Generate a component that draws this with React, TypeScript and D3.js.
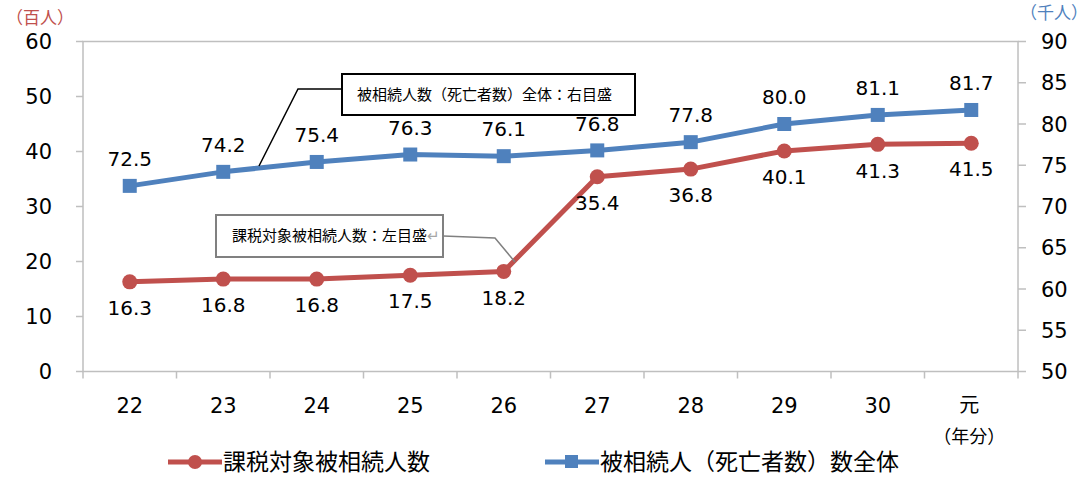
import React from "react";
import * as d3 from "d3";

const categories = ["22", "23", "24", "25", "26", "27", "28", "29", "30", "元"];
const taxableHeirs = [16.3, 16.8, 16.8, 17.5, 18.2, 35.4, 36.8, 40.1, 41.3, 41.5];
const allDeceased = [72.5, 74.2, 75.4, 76.3, 76.1, 76.8, 77.8, 80.0, 81.1, 81.7];
const leftTicks = [0, 10, 20, 30, 40, 50, 60];
const rightTicks = [50, 55, 60, 65, 70, 75, 80, 85, 90];

const RED = "#c0504d";
const BLUE = "#4f81bd";
const AXIS = "#bfbfbf";
const NUM_FONT = "'DejaVu Sans', Verdana, sans-serif";
const JP_FONT = "'Noto Sans CJK JP', 'Noto Sans', sans-serif";

export default function App() {
  const left = 83, right = 1018, top = 41.5, bottom = 371.5;
  const x = d3.scaleBand<string>().domain(categories).range([left, right]);
  const cx = (c: string) => (x(c) as number) + x.bandwidth() / 2;
  const yL = d3.scaleLinear().domain([0, 60]).range([bottom, top]);
  const yR = d3.scaleLinear().domain([50, 90]).range([bottom, top]);

  const redLine = d3.line<number>().x((_, i) => cx(categories[i])).y((d) => yL(d))(taxableHeirs) || "";
  const blueLine = d3.line<number>().x((_, i) => cx(categories[i])).y((d) => yR(d))(allDeceased) || "";

  const boundaries = d3.range(categories.length + 1).map((i) => left + i * x.bandwidth());

  return (
    <svg width={1089} height={483} style={{ position: "absolute", left: 0, top: 0, background: "#fff" }}>
      {/* plot frame */}
      <rect x={left} y={top} width={right - left} height={bottom - top} fill="none" stroke={AXIS} strokeWidth={1.5} />
      {/* left ticks */}
      {leftTicks.map((t) => (
        <g key={"l" + t}>
          <line x1={left - 7} x2={left} y1={yL(t)} y2={yL(t)} stroke={AXIS} strokeWidth={1.5} />
          <text x={52} y={yL(t)} dy="0.36em" textAnchor="end" fontFamily={NUM_FONT} fontSize={21} fill="#000">{t}</text>
        </g>
      ))}
      {/* right ticks */}
      {rightTicks.map((t) => (
        <g key={"r" + t}>
          <line x1={right} x2={right + 8} y1={yR(t)} y2={yR(t)} stroke={AXIS} strokeWidth={1.5} />
          <text x={1041} y={yR(t)} dy="0.36em" textAnchor="start" fontFamily={NUM_FONT} fontSize={21} fill="#000">{t}</text>
        </g>
      ))}
      {/* category ticks */}
      {boundaries.map((b, i) => (
        <line key={"c" + i} x1={b} x2={b} y1={bottom} y2={bottom + 7} stroke={AXIS} strokeWidth={1.5} />
      ))}
      {categories.map((c, i) =>
        i < categories.length - 1 ? (
          <text key={"x" + c} x={cx(c)} y={405} dy="0.36em" textAnchor="middle" fontFamily={NUM_FONT} fontSize={21} fill="#000">{c}</text>
        ) : (
          <g key={"x" + c}>
            <text x={cx(c) - 2} y={405} dy="0.36em" textAnchor="middle" fontFamily={JP_FONT} fontSize={20} fill="#000">{c}</text>
            <text x={cx(c) - 2} y={437} dy="0.36em" textAnchor="middle" fontFamily={JP_FONT} fontSize={18} fill="#000">（年分）</text>
          </g>
        )
      )}
      {/* unit labels */}
      <text x={6} y={18} dy="0.36em" fontFamily={JP_FONT} fontSize={17} fill={RED}>（百人）</text>
      <text x={1020} y={13} dy="0.36em" fontFamily={JP_FONT} fontSize={17} fill={BLUE}>（千人）</text>

      {/* series */}
      <path d={blueLine} fill="none" stroke={BLUE} strokeWidth={5} strokeLinejoin="round" />
      {allDeceased.map((v, i) => (
        <rect key={"bm" + i} x={cx(categories[i]) - 7} y={yR(v) - 7} width={14} height={14} fill={BLUE} />
      ))}
      <path d={redLine} fill="none" stroke={RED} strokeWidth={5} strokeLinejoin="round" />
      {taxableHeirs.map((v, i) => (
        <circle key={"rm" + i} cx={cx(categories[i])} cy={yL(v)} r={7.5} fill={RED} />
      ))}

      {/* data labels */}
      {allDeceased.map((v, i) => (
        <text key={"bl" + i} x={cx(categories[i])} y={yR(v) - 27} dy="0.36em" textAnchor="middle" fontFamily={NUM_FONT} fontSize={20} fill="#000">{v.toFixed(1)}</text>
      ))}
      {taxableHeirs.map((v, i) => (
        <text key={"rl" + i} x={cx(categories[i])} y={yL(v) + 26} dy="0.36em" textAnchor="middle" fontFamily={NUM_FONT} fontSize={20} fill="#000">{v.toFixed(1)}</text>
      ))}

      {/* callout 1 */}
      <polyline points="342,89 298,89 259,166" fill="none" stroke="#000" strokeWidth={1.5} />
      <rect x={342} y={74} width={293} height={41} fill="#fff" stroke="#000" strokeWidth={2} />
      <text x={357} y={94.5} dy="0.36em" fontFamily={JP_FONT} fontSize={15} fill="#000">被相続人数（死亡者数）全体：右目盛</text>

      {/* callout 2 */}
      <polyline points="443,236 495,238 515,262" fill="none" stroke="#808080" strokeWidth={1.5} />
      <rect x={216} y={215} width={227} height={42} fill="#fff" stroke="#808080" strokeWidth={2} />
      <text x={232} y={236} dy="0.36em" fontFamily={JP_FONT} fontSize={15} fill="#000">
        課税対象被相続人数：左目盛<tspan fill="#a6a6a6">↵</tspan>
      </text>

      {/* legend */}
      <line x1={168} x2={222} y1={462} y2={462} stroke={RED} strokeWidth={5} />
      <circle cx={195} cy={462} r={7} fill={RED} />
      <text x={223} y={462} dy="0.36em" fontFamily={JP_FONT} fontSize={23} fill="#000">課税対象被相続人数</text>
      <line x1={545} x2={599} y1={462} y2={462} stroke={BLUE} strokeWidth={5} />
      <rect x={565} y={455} width={13} height={13} fill={BLUE} />
      <text x={600} y={462} dy="0.36em" fontFamily={JP_FONT} fontSize={23} fill="#000">被相続人（死亡者数）数全体</text>
    </svg>
  );
}
